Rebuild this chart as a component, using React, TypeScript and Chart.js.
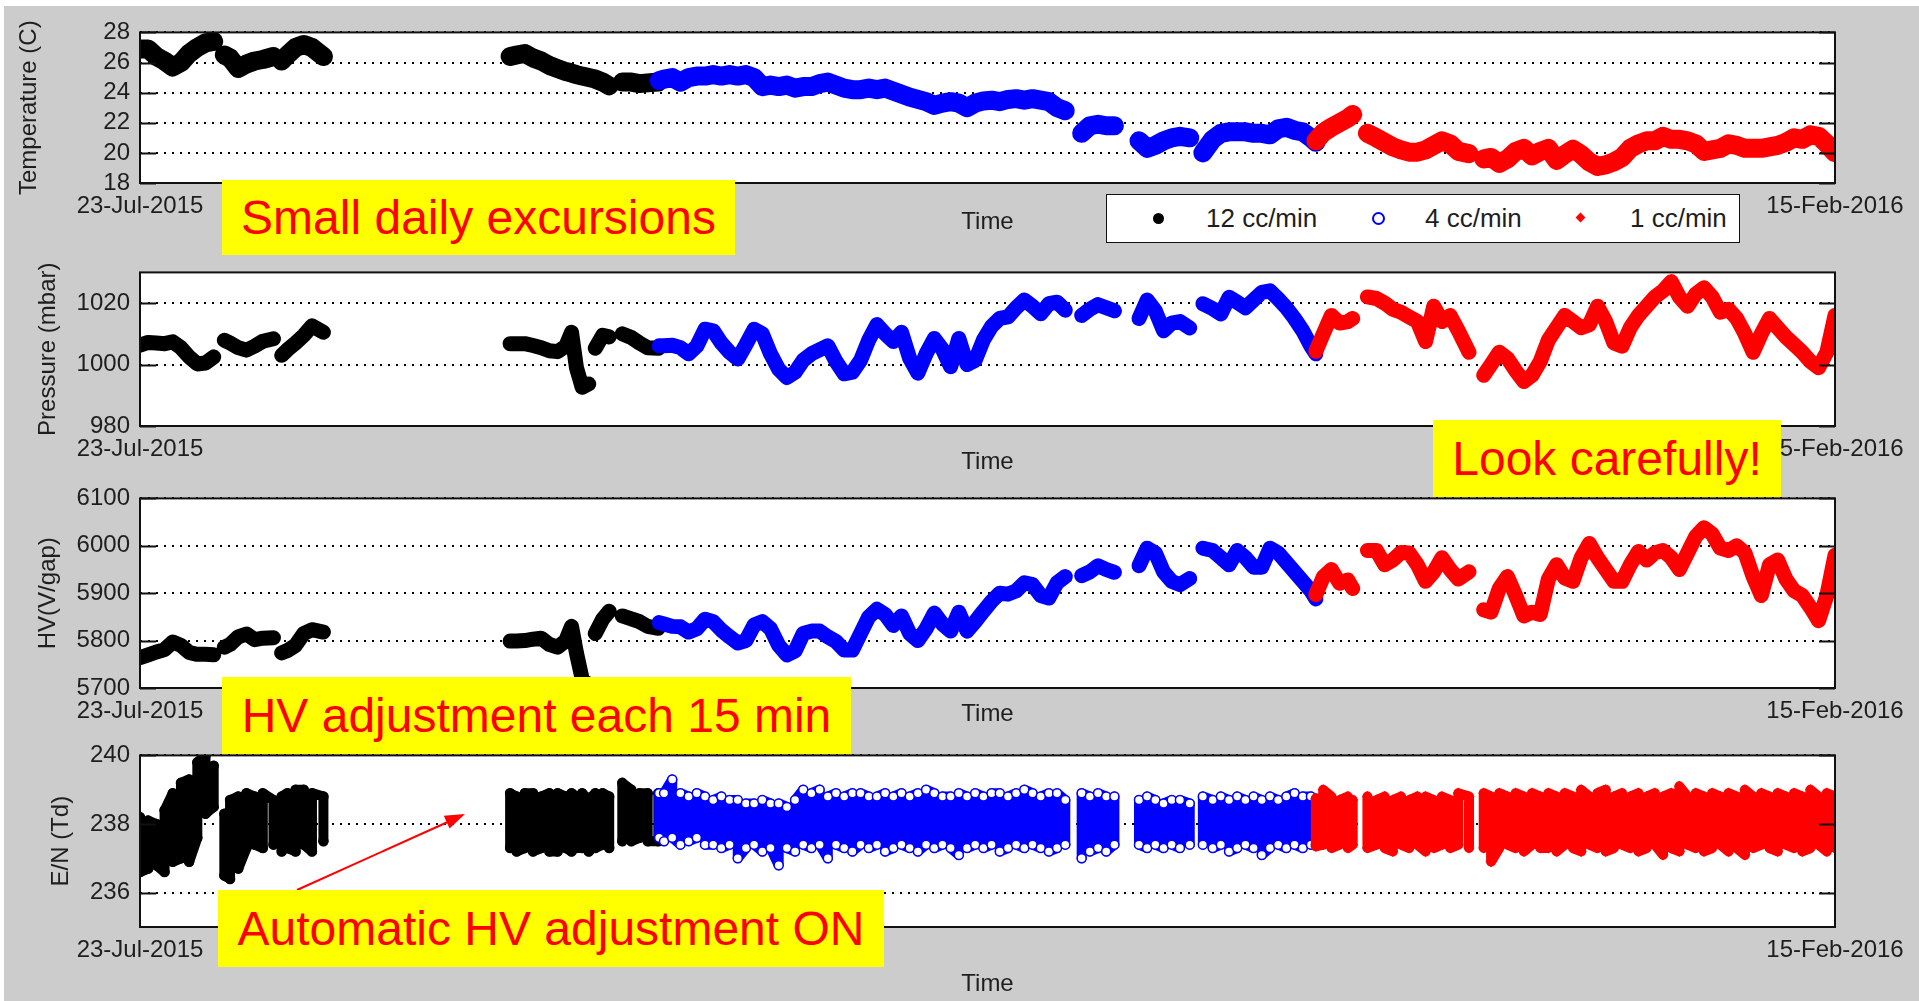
import { useEffect, useRef } from 'react';
import { Chart, registerables } from 'chart.js';

Chart.register(...registerables);

const FONT = "'Liberation Sans', Arial, Helvetica, sans-serif";
const TEXT = '#1e1e1e';

// ---- time axis (days since 23-Jul-2015) ----
const timeSpanDays = 207;
const timeTickLabels = ['23-Jul-2015', '15-Feb-2016'];

// ---- y tick values per panel ----
const tempTicks = [18, 20, 22, 24, 26, 28];
const pressTicks = [980, 1000, 1020];
const hvTicks = [5700, 5800, 5900, 6000, 6100];
const enTicks = [236, 238, 240];

// ---- 12 cc/min (black) ----
const flow12Days = [
  0, 1, 2, 3, 4, 5, 6, 7, 8, 9,
  9.7, 10.3, 11, 12, 13, 14, 15, 16.3, 16.8, 17.3,
  18, 19, 20, 21, 22.4, 30, 45.2, 46, 47, 48,
  49, 50, 51, 52, 52.7, 53.3, 54, 54.8, 55.2, 55.6,
  56.5, 57.3, 58.1, 58.9, 60, 61, 62, 63.3,
];
const flow12Temp = [
  26.9, 26.9, 26.4, 26.1, 25.7, 26.0, 26.6, 27.0, 27.3, 27.4,
  null, 26.5, 26.3, 25.6, 25.9, 26.1, 26.2, 26.4, null, 26.1,
  26.5, 27.0, 27.2, 27.0, 26.4, null, 26.4, 26.5, 26.6, 26.3,
  26.1, 25.8, 25.6, 25.4, 25.3, 25.2, 25.1, 25.0, 24.95, 24.9,
  24.7, 24.45, null, 24.7, 24.7, 24.6, 24.65, 24.7,
];
const flow12Press = [
  1006.3, 1007.2, 1007.0, 1006.8, 1007.4, 1005.5, 1002.5, 1000.2, 1000.5, 1002.5,
  null, 1007.9, 1007.0, 1005.5, 1004.7, 1006.0, 1007.6, 1008.4, null, 1003.0,
  1004.8, 1007.0, 1009.5, 1012.6, 1010.5, null, 1006.8, 1006.8, 1006.8, 1006.2,
  1005.5, 1004.5, 1004.2, 1006.0, 1010.5, 999.0, 992.6, 993.7, null, 1005.3,
  1009.5, 1009.0, null, 1010.0, 1008.8, 1007.0, 1005.5, 1005.3,
];
const flow12HV = [
  5764, 5770, 5776, 5781, 5797, 5790, 5775, 5771, 5771, 5770,
  null, 5786, 5792, 5808, 5814, 5802, 5805, 5806, null, 5774,
  5779, 5790, 5815, 5823, 5818, null, 5799, 5799, 5800, 5803,
  5805, 5792, 5786, 5800, 5830, 5774, 5719, 5706, null, 5815,
  5845, 5862, null, 5852, 5846, 5840, 5830, 5826,
];
const flow12EnLow = [
  236.6, 236.7, 236.8, 236.6, 236.9, 237.0, 236.9, 237.6, 238.3, 238.5,
  null, 236.5, 236.4, 236.7, 237.3, 237.4, 237.3, 237.4, null, 237.2,
  237.3, 237.2, 237.4, 237.2, 237.5, null, 237.3, 237.2, 237.3, 237.2,
  237.3, 237.2, 237.2, 237.3, 237.2, 237.3, 237.3, 237.2, 237.3, 237.3,
  237.4, 237.3, null, 237.5, 237.5, 237.6, 237.5, 237.5,
];
const flow12EnHigh = [
  238.2, 238.1, 238.0, 238.4, 238.9, 239.2, 239.3, 239.8, 240.0, 239.7,
  null, 238.3, 238.7, 238.8, 238.9, 238.8, 238.9, 238.7, null, 238.8,
  238.9, 239.0, 239.0, 238.9, 238.8, null, 238.9, 238.8, 238.9, 238.9,
  238.8, 238.9, 238.9, 238.8, 238.9, 238.8, 238.9, 238.7, 238.8, 238.9,
  238.9, 238.8, null, 239.2, 239.0, 238.9, 238.9, 238.9,
];

// ---- 4 cc/min (blue) ----
const flow4Days = [
  63.4, 64, 65, 66, 67, 68, 69, 70, 71, 72,
  73, 74, 75, 76, 77, 78, 79, 80, 81, 82,
  83, 84, 85, 86, 87, 88, 89, 90, 91, 92,
  93, 94, 95, 96, 97, 98, 99, 100, 101, 102,
  103, 104, 105, 106, 107, 108, 109, 110, 111, 112,
  113, 113.8, 115, 116, 117, 118, 119, 120.5, 122, 123,
  124, 125, 126, 127, 128.2, 129, 129.8, 131, 132, 133,
  134, 135, 136, 137, 138, 139, 140, 141, 142, 143,
  143.6,
];
const flow4Temp = [
  24.8, 24.9, 25.0, 24.7, 25.0, 25.1, 25.1, 25.2, 25.1, 25.2,
  25.1, 25.2, 25.0, 24.4, 24.5, 24.4, 24.5, 24.3, 24.4, 24.4,
  24.6, 24.7, 24.5, 24.3, 24.2, 24.2, 24.3, 24.2, 24.3, 24.1,
  23.9, 23.7, 23.55, 23.4, 23.15, 23.3, 23.4, 23.3, 23.0, 23.3,
  23.45, 23.5, 23.4, 23.55, 23.6, 23.5, 23.6, 23.5, 23.4, 23.0,
  22.8, null, 21.3, 21.8, 21.9, 21.8, 21.8, null, 20.8, 20.3,
  20.5, 20.8, 21.0, 21.1, 21.0, null, 20.0, 20.9, 21.3, 21.4,
  21.4, 21.4, 21.3, 21.3, 21.2, 21.6, 21.7, 21.5, 21.4, 21.0,
  20.7,
];
const flow4Press = [
  1006.1, 1006.1, 1006.3, 1005.5, 1003.5, 1006.0, 1011.5, 1011.0, 1007.0, 1004.0,
  1001.8, 1006.5, 1011.5, 1010.0, 1003.5, 998.5, 995.8, 997.5, 1001.4, 1003.5,
  1004.8, 1006.1, 1001.0, 997.0, 997.5, 1001.4, 1008.0, 1013.0, 1010.0, 1007.5,
  1010.5, 1002.0, 997.2, 1003.5, 1008.5, 1005.0, 999.3, 1008.5, 1000.0, 1001.4,
  1008.0, 1012.4, 1015.0, 1015.5, 1018.5, 1021.0, 1019.0, 1016.5, 1019.8, 1020.3,
  1017.7, null, 1016.0, 1018.0, 1019.5, 1018.5, 1017.5, null, 1015.0, 1021.0,
  1017.5, 1011.0, 1013.5, 1014.0, 1011.9, null, 1019.8, 1018.2, 1016.5, 1021.9,
  1020.3, 1018.5, 1021.0, 1023.5, 1024.0, 1021.4, 1018.5, 1015.0, 1011.0, 1006.0,
  1003.5,
];
const flow4HV = [
  5838, 5835, 5830, 5829, 5818, 5825, 5845, 5840, 5822, 5808,
  5795, 5800, 5833, 5840, 5825, 5790, 5770, 5778, 5815, 5820,
  5820, 5808, 5798, 5780, 5780, 5815, 5850, 5866, 5855, 5832,
  5852, 5815, 5800, 5825, 5858, 5835, 5820, 5860, 5820, 5840,
  5862, 5883, 5900, 5898, 5905, 5922, 5918, 5895, 5890, 5922,
  5935, null, 5937, 5945, 5958, 5950, 5944, null, 5958, 5995,
  5985, 5945, 5925, 5918, 5931, null, 5995, 5990, 5975, 5960,
  5990, 5975, 5955, 5955, 5995, 5985, 5965, 5945, 5925, 5905,
  5888,
];
const flow4EnLow = [
  237.6, 237.5, 237.6, 237.4, 237.5, 237.6, 237.4, 237.4, 237.3, 237.4,
  237.0, 237.3, 237.4, 237.2, 237.3, 236.8, 237.3, 237.2, 237.4, 237.3,
  237.4, 237.0, 237.4, 237.3, 237.2, 237.4, 237.3, 237.4, 237.2, 237.3,
  237.4, 237.3, 237.2, 237.4, 237.3, 237.4, 237.3, 237.1, 237.3, 237.4,
  237.3, 237.4, 237.2, 237.3, 237.4, 237.3, 237.4, 237.3, 237.2, 237.3,
  237.4, null, 237.0, 237.2, 237.3, 237.2, 237.4, null, 237.4, 237.3,
  237.4, 237.3, 237.4, 237.3, 237.4, null, 237.4, 237.3, 237.4, 237.2,
  237.3, 237.4, 237.3, 237.1, 237.3, 237.4, 237.3, 237.4, 237.3, 237.4,
  237.4,
];
const flow4EnHigh = [
  238.9, 238.9, 239.3, 238.9, 238.8, 238.9, 238.8, 238.7, 238.8, 238.7,
  238.7, 238.6, 238.6, 238.7, 238.6, 238.6, 238.5, 238.7, 239.0, 238.9,
  239.0, 238.8, 238.9, 238.8, 238.9, 238.9, 238.8, 238.8, 238.9, 238.8,
  238.9, 238.8, 238.9, 239.0, 238.9, 238.8, 238.8, 238.9, 238.8, 238.9,
  238.8, 238.9, 238.9, 238.8, 238.9, 239.0, 238.9, 238.8, 238.9, 238.9,
  238.7, null, 238.9, 238.8, 238.9, 238.8, 238.8, null, 238.7, 238.8,
  238.7, 238.6, 238.7, 238.7, 238.6, null, 238.8, 238.7, 238.8, 238.7,
  238.8, 238.7, 238.8, 238.7, 238.8, 238.7, 238.8, 238.9, 238.8, 238.8,
  238.7,
];

// ---- 1 cc/min (red) ----
const flow1Days = [
  143.6, 144.5, 145.5, 146.5, 147.5, 148.1, 149, 149.9, 151, 152,
  153, 154, 155, 156, 157, 158, 159, 160, 161, 162.3,
  163.2, 164.1, 165, 166, 167, 168, 169, 170, 171, 172,
  173, 174, 175, 176, 177, 178, 179, 180, 181, 182,
  183, 184, 185, 186, 187, 188, 189, 190, 191, 192,
  193, 194, 195, 196, 197, 198, 199, 200, 201, 202,
  203, 204, 205, 206, 207,
];
const flow1Temp = [
  20.8, 21.35, 21.7, 22.0, 22.3, 22.55, null, 21.3, 21.0, 20.7,
  20.4, 20.2, 20.05, 20.05, 20.2, 20.5, 20.8, 20.6, 20.1, 19.95,
  null, 19.6, 19.7, 19.3, 19.6, 20.1, 20.3, 19.8, 20.1, 20.3,
  19.5, 19.9, 20.25, 19.9, 19.4, 19.1, 19.2, 19.4, 19.7, 20.3,
  20.6, 20.8, 20.8, 21.1, 20.9, 20.9, 20.8, 20.6, 20.1, 20.2,
  20.3, 20.6, 20.5, 20.3, 20.3, 20.3, 20.4, 20.5, 20.7, 21.0,
  20.9, 21.2, 21.1, 20.6, 20.0,
];
const flow1Press = [
  1004.3, 1010.0, 1016.0, 1013.5, 1014.0, 1015.0, null, 1022.0, 1021.5, 1020.0,
  1018.0, 1017.0, 1015.5, 1014.0, 1007.5, 1019.0, 1014.0, 1016.0, 1011.0, 1004.0,
  null, 996.5, 1000.0, 1004.0, 1002.0, 998.0, 994.5, 996.5, 1001.0, 1008.0,
  1012.0, 1016.0, 1014.0, 1012.0, 1013.0, 1019.0, 1014.0, 1007.0, 1006.0, 1012.0,
  1016.0, 1019.0, 1022.0, 1024.0, 1027.0, 1022.0, 1019.0, 1023.0, 1025.0, 1022.0,
  1017.0, 1018.0, 1015.0, 1010.0, 1004.0, 1010.0, 1015.0, 1012.0, 1009.0, 1006.5,
  1004.0, 1001.0, 999.0, 1004.0, 1016.0,
];
const flow1HV = [
  5897, 5934, 5950, 5921, 5928, 5910, null, 5990, 5990, 5960,
  5970, 5986, 5985, 5960, 5925, 5945, 5975, 5950, 5930, 5945,
  null, 5865, 5860, 5910, 5935, 5895, 5852, 5860, 5855, 5930,
  5960, 5932, 5925, 5975, 6005, 5975, 5950, 5925, 5925, 5960,
  5988, 5970, 5985, 5990, 5975, 5950, 5985, 6020, 6038, 6025,
  5995, 5990, 6000, 5985, 5935, 5895, 5960, 5970, 5930, 5905,
  5895, 5870, 5842, 5895, 5980,
];
const flow1EnLow = [
  237.35, 237.4, 237.3, 237.4, 237.3, 237.4, null, 237.3, 237.4, 237.3,
  237.2, 237.4, 237.3, 237.4, 237.2, 237.3, 237.4, 237.3, 237.4, 237.3,
  null, 237.3, 236.9, 237.3, 237.4, 237.3, 237.2, 237.4, 237.3, 237.3,
  237.2, 237.4, 237.3, 237.2, 237.4, 237.3, 237.2, 237.3, 237.4, 237.3,
  237.2, 237.3, 237.4, 237.1, 237.3, 237.2, 237.4, 237.3, 237.2, 237.3,
  237.4, 237.2, 237.3, 237.1, 237.3, 237.4, 237.3, 237.2, 237.4, 237.3,
  237.2, 237.3, 237.4, 237.2, 237.3,
];
const flow1EnHigh = [
  238.75, 239.0, 238.8, 238.7, 238.8, 238.7, null, 238.8, 238.7, 238.8,
  238.7, 238.8, 238.7, 238.8, 238.8, 238.7, 238.8, 238.7, 238.9, 238.8,
  null, 238.9, 238.8, 238.9, 238.8, 238.9, 238.8, 238.9, 238.8, 238.9,
  238.8, 238.9, 238.8, 239.0, 238.8, 238.9, 239.0, 238.8, 238.9, 238.8,
  238.9, 238.8, 238.9, 238.8, 238.9, 239.1, 238.8, 238.9, 238.8, 238.9,
  238.8, 238.9, 238.8, 239.0, 238.8, 238.9, 238.8, 238.9, 238.8, 238.9,
  238.8, 239.0, 238.8, 238.9, 238.8,
];

const flowLabels = ['12 cc/min', '4 cc/min', '1 cc/min'];

type Series = {
  color: string;
  pointStyle: string;
  pointFill: string;
  order: number;
  days: number[];
  temp: (number | null)[];
  press: (number | null)[];
  hv: (number | null)[];
  enLow: (number | null)[];
  enHigh: (number | null)[];
};

const SERIES: Series[] = [
  { color: '#000000', pointStyle: 'circle', pointFill: '#000000', order: 3, days: flow12Days, temp: flow12Temp, press: flow12Press, hv: flow12HV, enLow: flow12EnLow, enHigh: flow12EnHigh },
  { color: '#0000ff', pointStyle: 'circle', pointFill: '#ffffff', order: 2, days: flow4Days, temp: flow4Temp, press: flow4Press, hv: flow4HV, enLow: flow4EnLow, enHigh: flow4EnHigh },
  { color: '#ff0000', pointStyle: 'rectRot', pointFill: '#ff0000', order: 1, days: flow1Days, temp: flow1Temp, press: flow1Press, hv: flow1HV, enLow: flow1EnLow, enHigh: flow1EnHigh },
];

type PanelKey = 'temp' | 'press' | 'hv' | 'en';
type Panel = {
  key: PanelKey;
  title: string;
  min: number;
  max: number;
  ticks: number[];
  top: number;
  height: number;
  xHeight: number;
  titlePad: number;
  lineWidth: number;
};

const PANELS: Panel[] = [
  { key: 'temp', title: 'Temperature (C)', min: 18, max: 28, ticks: tempTicks, top: 8, height: 229, xHeight: 54, titlePad: 15, lineWidth: 19 },
  { key: 'press', title: 'Pressure (mbar)', min: 980, max: 1030, ticks: pressTicks, top: 248, height: 229, xHeight: 51, titlePad: 34, lineWidth: 15 },
  { key: 'hv', title: 'HV(V/gap)', min: 5700, max: 6100, ticks: hvTicks, top: 474, height: 255, xHeight: 41, titlePad: 34, lineWidth: 15 },
  { key: 'en', title: 'E/N (Td)', min: 235, max: 240, ticks: enTicks, top: 731, height: 268, xHeight: 72, titlePad: 47, lineWidth: 10 },
];

const toPoints = (days: number[], vals: (number | null)[]) =>
  days.map((d, i) => ({ x: d, y: vals[i] }));

// Spread of each E/N reading, traced as alternating vertical strokes (high→low, low→high).
function spreadPath(s: Series) {
  const pts: { x: number; y: number | null }[] = [];
  let down = true;
  s.days.forEach((d, i) => {
    const lo = s.enLow[i];
    const hi = s.enHigh[i];
    if (lo == null || hi == null) {
      pts.push({ x: d, y: null });
      return;
    }
    if (down) pts.push({ x: d, y: hi }, { x: d, y: lo });
    else pts.push({ x: d, y: lo }, { x: d, y: hi });
    down = !down;
  });
  return pts;
}

function buildDatasets(panel: Panel) {
  const sets: any[] = [];
  SERIES.forEach((s) => {
    const stroke = {
      borderColor: s.color,
      backgroundColor: s.color,
      borderWidth: panel.lineWidth,
      borderCapStyle: 'round',
      borderJoinStyle: 'round',
      pointRadius: 0,
      spanGaps: false,
      tension: 0,
      fill: false,
      clip: 0,
    };
    if (panel.key === 'en') {
      sets.push({ ...stroke, data: spreadPath(s), order: s.order * 2 + 1 });
      const edge = {
        showLine: false,
        pointStyle: s.pointStyle,
        pointRadius: 4.5,
        pointBorderWidth: 1.5,
        pointBorderColor: s.color,
        pointBackgroundColor: s.pointFill,
        order: s.order * 2,
        clip: 0,
      };
      sets.push({ ...edge, data: toPoints(s.days, s.enHigh) });
      sets.push({ ...edge, data: toPoints(s.days, s.enLow) });
    } else {
      sets.push({ ...stroke, data: toPoints(s.days, s[panel.key]), order: s.order });
    }
  });
  return sets;
}

// White plot area, boxed frame and inward tick marks on both sides.
const framePlugin = {
  id: 'matlabFrame',
  beforeDraw(chart: any) {
    const { ctx, chartArea: a } = chart;
    ctx.save();
    ctx.fillStyle = '#ffffff';
    ctx.fillRect(a.left, a.top, a.right - a.left, a.bottom - a.top);
    ctx.restore();
  },
  afterDraw(chart: any) {
    const { ctx, chartArea: a } = chart;
    const y = chart.scales.y;
    ctx.save();
    ctx.strokeStyle = '#111111';
    ctx.lineWidth = 2;
    y.ticks.forEach((t: any) => {
      const py = Math.round(y.getPixelForValue(t.value)) + 0.5;
      ctx.beginPath();
      ctx.moveTo(a.left, py);
      ctx.lineTo(a.left + 16, py);
      ctx.moveTo(a.right - 16, py);
      ctx.lineTo(a.right, py);
      ctx.stroke();
    });
    ctx.strokeRect(a.left, a.top, a.right - a.left, a.bottom - a.top);
    ctx.restore();
  },
};

function PanelChart({ panel }: { panel: Panel }) {
  const ref = useRef<HTMLCanvasElement>(null);
  useEffect(() => {
    if (!ref.current) return;
    const font = { family: FONT, size: 24 };
    const chart = new Chart(ref.current, {
      type: 'line',
      data: { datasets: buildDatasets(panel) },
      options: {
        animation: false,
        responsive: false,
        devicePixelRatio: 1,
        events: [],
        layout: { padding: { left: 0, right: 84, top: 20, bottom: 0 } },
        plugins: { legend: { display: false }, tooltip: { enabled: false } },
        scales: {
          x: {
            type: 'linear',
            min: 0,
            max: timeSpanDays,
            offset: false,
            grid: { display: false },
            border: { display: false },
            afterBuildTicks: (s: any) => {
              s.ticks = [{ value: 0 }, { value: timeSpanDays }];
            },
            afterFit: (s: any) => {
              s.height = panel.xHeight;
            },
            ticks: {
              autoSkip: false,
              maxRotation: 0,
              padding: 1,
              color: TEXT,
              font,
              callback: (v: any) => (Number(v) === 0 ? timeTickLabels[0] : timeTickLabels[1]),
            },
            title: { display: true, text: 'Time', color: TEXT, font, padding: { top: 0, bottom: 0 } },
          },
          y: {
            type: 'linear',
            min: panel.min,
            max: panel.max,
            afterBuildTicks: (s: any) => {
              s.ticks = panel.ticks.map((v) => ({ value: v }));
            },
            afterFit: (s: any) => {
              s.width = 140;
            },
            grid: { color: '#000000', lineWidth: 2, drawTicks: false },
            border: { display: false, dash: [2, 6] },
            ticks: {
              autoSkip: false,
              padding: 10,
              color: TEXT,
              font,
              callback: (v: any) => String(v),
            },
            title: { display: true, text: panel.title, color: TEXT, font, padding: { top: panel.titlePad, bottom: 0 } },
          },
        },
      } as any,
      plugins: [framePlugin],
    });
    return () => chart.destroy();
  }, [panel]);
  return (
    <canvas
      ref={ref}
      width={1919}
      height={panel.height}
      style={{ position: 'absolute', left: 0, top: panel.top }}
    />
  );
}

const noteStyle = (left: number, top: number, width: number, height: number): React.CSSProperties => ({
  position: 'absolute',
  left,
  top,
  width,
  height,
  background: '#ffff00',
  color: '#ff0000',
  fontFamily: FONT,
  fontSize: 48,
  display: 'flex',
  alignItems: 'center',
  justifyContent: 'center',
  whiteSpace: 'nowrap',
  lineHeight: 1,
});

const legendText: React.CSSProperties = {
  position: 'absolute',
  top: 0,
  height: 47,
  display: 'flex',
  alignItems: 'center',
  fontFamily: FONT,
  fontSize: 26,
  color: TEXT,
  whiteSpace: 'nowrap',
};

export default function App() {
  return (
    <div style={{ position: 'fixed', left: 0, top: 0, width: 1919, height: 1001, background: '#ffffff', overflow: 'hidden' }}>
      <div style={{ position: 'absolute', left: 4, top: 6, right: 0, bottom: 0, background: '#cccccc' }} />
      {PANELS.map((p) => (
        <PanelChart key={p.key} panel={p} />
      ))}

      {/* legend */}
      <div
        style={{
          position: 'absolute',
          left: 1106,
          top: 194,
          width: 634,
          height: 49,
          background: '#ffffff',
          border: '1px solid #111',
          boxSizing: 'border-box',
        }}
      >
        <div style={{ position: 'absolute', left: 46, top: 18, width: 11, height: 11, borderRadius: '50%', background: '#000' }} />
        <div style={{ ...legendText, left: 99 }}>{flowLabels[0]}</div>
        <div style={{ position: 'absolute', left: 265, top: 17, width: 9, height: 9, borderRadius: '50%', border: '2px solid #0000ff' }} />
        <div style={{ ...legendText, left: 318 }}>{flowLabels[1]}</div>
        <div style={{ position: 'absolute', left: 470, top: 19, width: 7, height: 7, background: '#ff0000', transform: 'rotate(45deg)' }} />
        <div style={{ ...legendText, left: 523 }}>{flowLabels[2]}</div>
      </div>

      {/* annotation arrow */}
      <svg width={1919} height={1001} style={{ position: 'absolute', left: 0, top: 0, pointerEvents: 'none' }}>
        <line x1={297} y1={890} x2={450} y2={821} stroke="#ff0000" strokeWidth={2} />
        <polygon points="465,814 449.6,828.6 443.8,815.8" fill="#ff0000" />
      </svg>

      <div style={noteStyle(222, 180, 513, 75)}>Small daily excursions</div>
      <div style={noteStyle(1433, 420, 348, 77)}>Look carefully!</div>
      <div style={noteStyle(222, 677, 629, 77)}>HV adjustment each 15 min</div>
      <div style={noteStyle(218, 890, 666, 77)}>Automatic HV adjustment ON</div>
    </div>
  );
}
